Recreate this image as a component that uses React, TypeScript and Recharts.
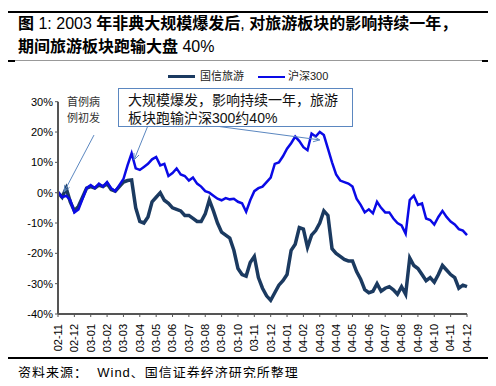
import { LineChart, Line, XAxis, YAxis, ReferenceLine } from 'recharts'

// month tick labels, 4 samples per month
const months = [
  '02-11', '02-12', '03-01', '03-02', '03-03', '03-04', '03-05', '03-06', '03-07',
  '03-08', '03-09', '03-10', '03-11', '03-12', '04-01', '04-02', '04-03', '04-04',
  '04-05', '04-06', '04-07', '04-08', '04-09', '04-10', '04-11', '04-12',
]

const yTicks = [-40, -30, -20, -10, 0, 10, 20, 30]

// 国信旅游 cumulative return, %
const gxly = [
  0, -1.5, 1.5, -3, -6, -4.5, -1.5, 1.5, 2, 1.5,
  2.5, 2, 3, 1, 0.5, 2, 3.5, 4, 4.2, -5,
  -9.5, -10, -8, -3, -1.5, 0, -2.5, -3.5, -5, -5.5,
  -6, -7.5, -7.5, -8.5, -9.5, -9.5, -7, -2.4, -6, -10,
  -13, -14, -15, -19, -25, -27, -27.5, -23, -21, -28,
  -31.5, -34, -35.5, -33, -30.5, -29, -27, -19, -17, -11.5,
  -12, -18, -14, -12.5, -10, -6, -7.5, -18.5, -20, -21,
  -22, -22.5, -22.5, -26, -28.5, -32, -33, -32.5, -30, -32.5,
  -31.5, -31, -32, -33.5, -31, -33.5, -21.5, -24, -25, -27,
  -29, -28, -29.5, -27, -24, -25.5, -27, -28, -31.5, -30.5,
  -31,
]

// 沪深300 cumulative return, %
const hs300 = [
  0.3, -1.5, -1, -2.5, -6.5, -5.5, -2, 1.5, 2.5, 1.5,
  3, 2, 3.5, 1.5, 0.5, 2.5, 4.5, 9, 13, 8,
  7.5, 8.5, 9.5, 11, 11.8, 9, 9.5, 5.5, 6.5, 8,
  6, 5.5, 4, 5, 3, 2, 0.5, 0, -1, -2,
  -2.5, -1.8, -2.2, -2, -3, -3.5, -6.3, -2.5, 0.5, 1.5,
  2, 3.5, 5, 9.5, 10, 12, 14.5, 16.3, 18.5, 17,
  15, 14, 19.5, 18.5, 20, 19, 14.5, 10, 6, 4,
  3.5, 3, 2, -2, -4, -6.5, -5.5, -6.8, -3, -5,
  -6.5, -6.5, -8.5, -10, -10.8, -13.5, -2.4, -1, -4, -3.5,
  -8.5, -9, -10.5, -8, -6, -8, -9.5, -10.5, -12, -12.5,
  -14,
]

const data = gxly.map((v, i) => ({ i, gxly: v, hs300: hs300[i] }))

// annotation arrows, data coordinates [x index, y %]
const arrows = [
  [[8.8, 19], [1.5, 0.3]],
  [[21.9, 21.8], [18.6, 10.8]],
  [[39.5, 21.8], [64, 17.4]],
]

const NAVY = '#1B3A60'
const BLUE = '#0a0ae6'
const ARROW = '#5b87c0'
const latin = '"Liberation Sans", Arial, sans-serif'
const cjk = '"Liberation Sans", "Noto Sans CJK SC", sans-serif'

function Arrow(props: any) {
  const { x1, y1, x2, y2 } = props
  if ([x1, y1, x2, y2].some((v) => typeof v !== 'number')) return null
  const a = Math.atan2(y2 - y1, x2 - x1)
  const L = 7
  const p1 = [x2 - L * Math.cos(a - 0.4), y2 - L * Math.sin(a - 0.4)]
  const p2 = [x2 - L * Math.cos(a + 0.4), y2 - L * Math.sin(a + 0.4)]
  return (
    <g>
      <line x1={x1} y1={y1} x2={x2} y2={y2} stroke={ARROW} strokeWidth={1} />
      <polyline points={`${p1[0]},${p1[1]} ${x2},${y2} ${p2[0]},${p2[1]}`} fill="none" stroke={ARROW} strokeWidth={1} />
    </g>
  )
}

function MonthTick(props: any) {
  const { x, y, payload } = props
  return (
    <text
      x={0}
      y={0}
      transform={`translate(${x},${y + 5}) rotate(-90)`}
      textAnchor="end"
      dy="0.35em"
      fontSize={11}
      fontFamily={latin}
      fill="#000"
    >
      {months[payload.value / 4]}
    </text>
  )
}

const reg = { fontWeight: 400 }

export default function App() {
  return (
    <div style={{ position: 'relative', width: 496, height: 386, margin: -8, background: '#fff', fontFamily: cjk, color: '#000' }}>
      <div style={{ position: 'absolute', left: 5, top: 11, width: 487, height: 1.5, background: '#000' }} />
      <div style={{ position: 'absolute', left: 18, top: 12, fontSize: 16, fontWeight: 700, lineHeight: '23px', whiteSpace: 'nowrap', letterSpacing: 0 }}>
        图<span style={reg}> 1: 2003 </span>年非典大规模爆发后<span style={reg}>, </span>对旅游板块的影响持续一年，
      </div>
      <div style={{ position: 'absolute', left: 18, top: 35, fontSize: 16, fontWeight: 700, lineHeight: '23px', whiteSpace: 'nowrap' }}>
        期间旅游板块跑输大盘<span style={reg}> 40%</span>
      </div>
      <div style={{ position: 'absolute', left: 5, top: 60, width: 487, height: 1, background: '#999' }} />
      <div style={{ position: 'absolute', left: 5, top: 59.5, width: 10, height: 2, background: '#000' }} />
      <div style={{ position: 'absolute', left: 482, top: 59.5, width: 10, height: 2, background: '#000' }} />

      <div style={{ position: 'absolute', left: 168, top: 75, width: 27, height: 3, background: NAVY }} />
      <div style={{ position: 'absolute', left: 200, top: 68, fontSize: 11, lineHeight: '16px', color: '#222' }}>国信旅游</div>
      <div style={{ position: 'absolute', left: 258, top: 75.5, width: 27, height: 2, background: BLUE }} />
      <div style={{ position: 'absolute', left: 288, top: 68, fontSize: 11, lineHeight: '16px', color: '#222' }}>沪深300</div>

      <div style={{ position: 'absolute', left: 0, top: 0 }}>
        <LineChart width={496} height={386} data={data} margin={{ top: 101.7, right: 29, left: 0, bottom: 32 }}>
          <XAxis
            dataKey="i"
            type="number"
            domain={[0, 100]}
            ticks={months.map((_, k) => k * 4)}
            interval={0}
            tick={<MonthTick />}
            height={40}
            axisLine={{ stroke: '#555', strokeWidth: 2 }}
            tickLine={{ stroke: '#555' }}
            tickSize={3}
          />
          <YAxis
            type="number"
            domain={[-40, 30]}
            ticks={yTicks}
            interval={0}
            width={58}
            tickFormatter={(v) => `${v}%`}
            tick={{ fontSize: 11, fill: '#000', fontFamily: latin }}
            axisLine={{ stroke: '#555', strokeWidth: 2 }}
            tickLine={{ stroke: '#555' }}
            tickSize={3}
          />
          <Line dataKey="gxly" stroke={NAVY} strokeWidth={3.5} dot={false} isAnimationActive={false} />
          <Line dataKey="hs300" stroke={BLUE} strokeWidth={2.5} dot={false} isAnimationActive={false} />
          {arrows.map((seg, k) => (
            <ReferenceLine
              key={k}
              segment={[{ x: seg[0][0], y: seg[0][1] }, { x: seg[1][0], y: seg[1][1] }]}
              ifOverflow="visible"
              shape={<Arrow />}
            />
          ))}
        </LineChart>
      </div>

      <div style={{ position: 'absolute', left: 67, top: 94, fontSize: 11, lineHeight: '16px', color: '#333', letterSpacing: 0 }}>
        首例病<br />例初发
      </div>
      <div style={{ position: 'absolute', left: 118, top: 88, width: 233, height: 37, border: `1px solid ${ARROW}`, background: '#fff' }}>
        <div style={{ position: 'absolute', left: 9, top: 2, fontSize: 14, lineHeight: '18px', whiteSpace: 'nowrap', color: '#111' }}>
          大规模爆发，影响持续一年，旅游
          <br />
          板块跑输沪深300约40%
        </div>
      </div>

      <div style={{ position: 'absolute', left: 5, top: 357, width: 486, height: 2, background: '#000' }} />
      <div style={{ position: 'absolute', left: 18, top: 364, fontSize: 13, lineHeight: '18px', whiteSpace: 'nowrap', letterSpacing: 1 }}>
        资料来源：&nbsp; Wind、国信证券经济研究所整理
      </div>
    </div>
  )
}
